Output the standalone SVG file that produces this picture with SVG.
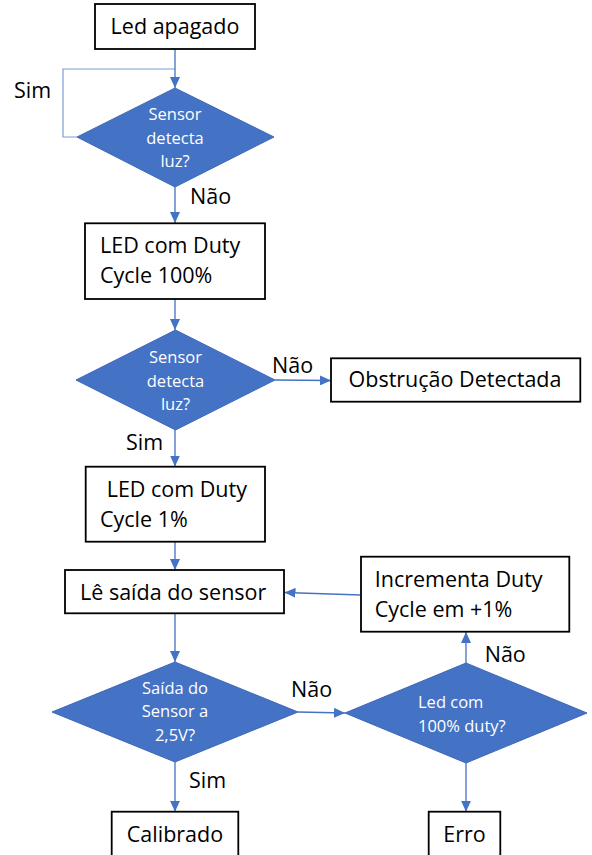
<svg xmlns="http://www.w3.org/2000/svg" width="592" height="855" viewBox="0 0 592 855">
<defs>
<marker id="ah" markerWidth="11" markerHeight="10" refX="11" refY="5" orient="auto" markerUnits="userSpaceOnUse">
<path d="M0,0 L11,5 L0,10 Z" fill="#4472C4"/>
</marker>
<style>
.box{fill:#fff;stroke:#000;stroke-width:1.8}
.dia{fill:#4472C4;stroke:#4068b8;stroke-width:1}
.t{font-family:"Open Sans","Liberation Sans",sans-serif;font-size:21.5px;fill:#000}
.d{font-family:"Open Sans","Liberation Sans",sans-serif;font-size:16.5px;fill:#fff;text-anchor:middle}
.dl{font-family:"Open Sans","Liberation Sans",sans-serif;font-size:16.5px;fill:#fff;text-anchor:start}
.c{fill:none;stroke:#4472C4;stroke-width:1.3}
.loop{fill:none;stroke:#7d9dd8;stroke-width:1.2}
</style>
</defs>
<rect width="592" height="855" fill="#fff"/>
<g id="connectors">
<path class="loop" d="M77,137 H63 V69 H175"/>
<path class="c" d="M175,49 V88" marker-end="url(#ah)"/>
<path class="c" d="M175,187 V223" marker-end="url(#ah)"/>
<path class="c" d="M175,299 V330" marker-end="url(#ah)"/>
<path class="c" d="M275,380 L331,380.5" marker-end="url(#ah)"/>
<path class="c" d="M175,430 V466.5" marker-end="url(#ah)"/>
<path class="c" d="M175,541.7 V570" marker-end="url(#ah)"/>
<path class="c" d="M175,613.3 V662" marker-end="url(#ah)"/>
<path class="c" d="M298,712 L345,713" marker-end="url(#ah)"/>
<path class="c" d="M466,663 V632" marker-end="url(#ah)"/>
<path class="c" d="M361,595 L284.5,592.5" marker-end="url(#ah)"/>
<path class="c" d="M175,762 V811.7" marker-end="url(#ah)"/>
<path class="c" d="M466,763 V811.7" marker-end="url(#ah)"/>
<text class="t" x="14" y="98">Sim</text>
<text class="t" x="190" y="204">Não</text>
<text class="t" x="272" y="373">Não</text>
<text class="t" x="126" y="450">Sim</text>
<text class="t" x="291" y="697">Não</text>
<text class="t" x="484.7" y="661.7">Não</text>
<text class="t" x="189" y="788.3">Sim</text>
</g>
<g id="n1">
<rect class="box" x="95" y="4" width="160" height="45"/>
<text class="t" x="175" y="34" text-anchor="middle">Led apagado</text>
</g>
<g id="n2">
<polygon class="dia" points="175,88 274,137 175,187 77,137"/>
<text class="d" x="175" y="120">Sensor</text>
<text class="d" x="175" y="143.5">detecta</text>
<text class="d" x="175" y="167">luz?</text>
</g>
<g id="n3">
<rect class="box" x="85" y="223.3" width="180" height="75.7"/>
<text class="t" x="100" y="253.3">LED com Duty</text>
<text class="t" x="100" y="283.3">Cycle 100%</text>
</g>
<g id="n4">
<polygon class="dia" points="175.5,330 275,380 175.5,430 76,380"/>
<text class="d" x="175.5" y="363.3">Sensor</text>
<text class="d" x="175.5" y="387">detecta</text>
<text class="d" x="175.5" y="410">luz?</text>
</g>
<g id="n5">
<rect class="box" x="331" y="358.3" width="249.3" height="43.4"/>
<text class="t" x="455" y="387" text-anchor="middle">Obstrução Detectada</text>
</g>
<g id="n6">
<rect class="box" x="85.7" y="466.7" width="179.3" height="75"/>
<text class="t" x="106.7" y="497.3">LED com Duty</text>
<text class="t" x="100" y="527.3">Cycle 1%</text>
</g>
<g id="n7">
<rect class="box" x="65" y="570" width="219" height="43.3"/>
<text class="t" x="80" y="599.5">Lê saída do sensor</text>
</g>
<g id="n8">
<rect class="box" x="361" y="556.7" width="208.3" height="75"/>
<text class="t" x="374.7" y="586.7">Incrementa Duty</text>
<text class="t" x="374.7" y="616.7">Cycle em +1%</text>
</g>
<g id="n9">
<polygon class="dia" points="175,662 298,712 175,762 52,712"/>
<text class="d" x="175" y="694">Saída do</text>
<text class="d" x="175" y="717.3">Sensor a</text>
<text class="d" x="175" y="740.7">2,5V?</text>
</g>
<g id="n10">
<polygon class="dia" points="466,663 587,713 466,763 345,713"/>
<text class="dl" x="418" y="708">Led com</text>
<text class="dl" x="418" y="731.5">100% duty?</text>
</g>
<g id="n11">
<rect class="box" x="111.7" y="811.7" width="126.6" height="50"/>
<text class="t" x="175" y="841.7" text-anchor="middle">Calibrado</text>
</g>
<g id="n12">
<rect class="box" x="428.7" y="811.7" width="71.6" height="50"/>
<text class="t" x="464.5" y="841.7" text-anchor="middle">Erro</text>
</g>
</svg>
